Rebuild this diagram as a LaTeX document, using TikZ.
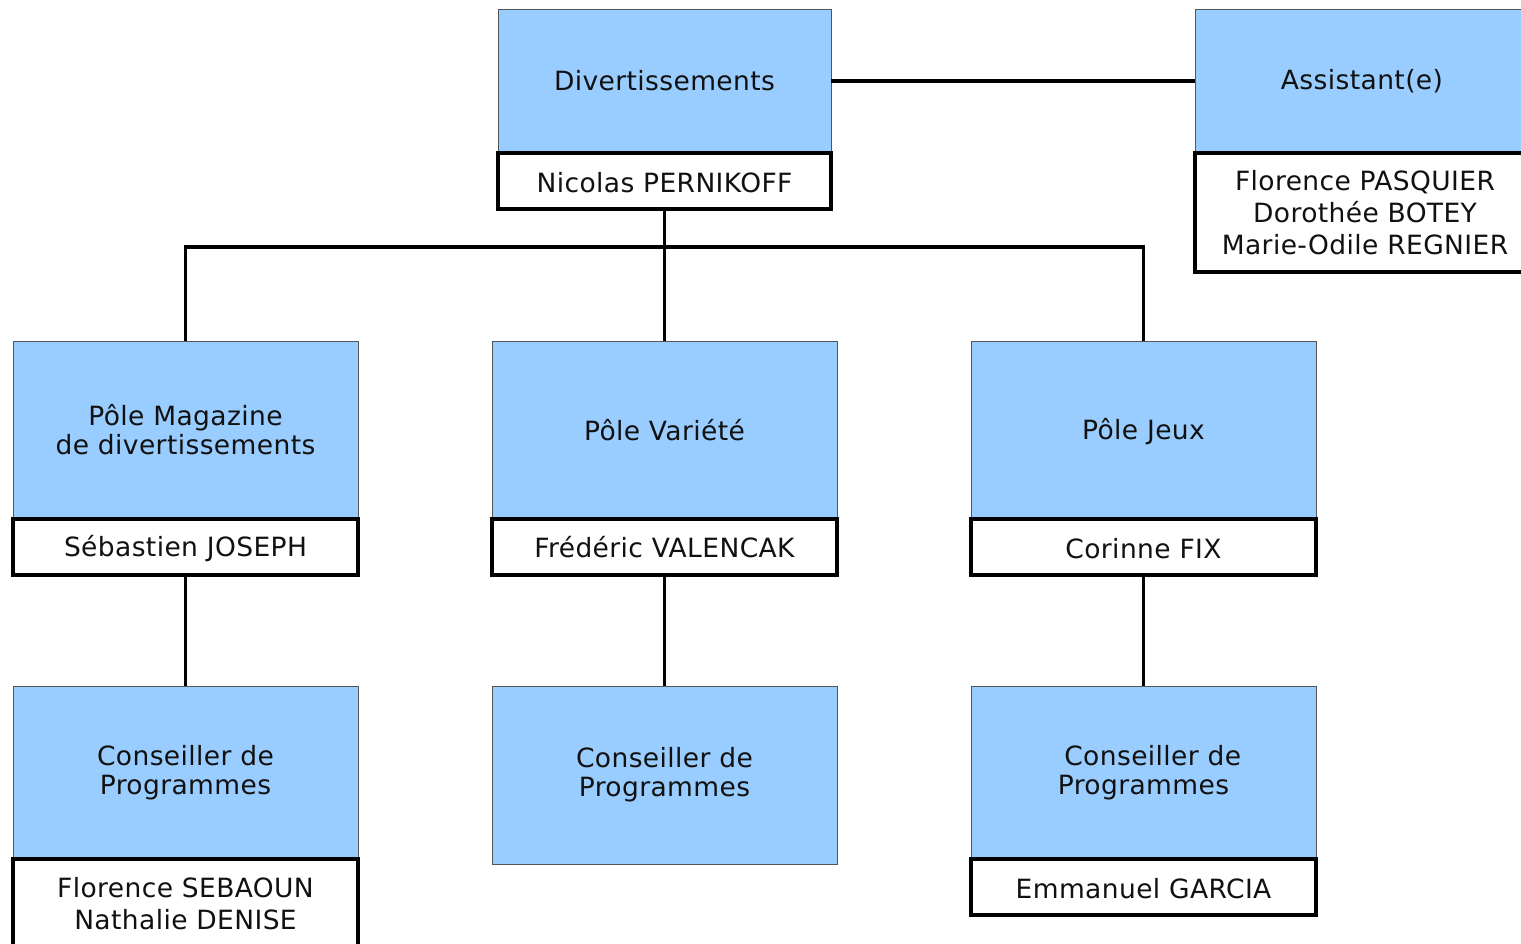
\documentclass[tikz,border=0pt]{standalone}
\usepackage{fontspec}
\setmainfont[LetterSpace=1.5]{DejaVu Sans}
\definecolor{bluefill}{HTML}{99CCFF}
\definecolor{bluedraw}{HTML}{555555}
\definecolor{txt}{HTML}{111111}
\newcommand{\lowered}[1]{\raisebox{-2pt}[\height][\depth]{#1}}
\tikzset{
  bluebox/.style={draw=bluedraw, line width=1pt, fill=bluefill, anchor=north west,
    inner sep=0pt, outer sep=0pt, align=center, text=txt, font=\fontsize{26.5}{29}\selectfont},
  namebox/.style={draw=black, line width=4pt, fill=white, anchor=north west,
    inner sep=0pt, outer sep=0pt, align=center, text=txt, font=\fontsize{26.5}{32}\selectfont},
  conn/.style={draw=black, line width=3.5pt},
}
\begin{document}
\begin{tikzpicture}[x=1pt,y=-1pt]
\useasboundingbox (0,0) rectangle (1521,943);
\clip (0,0) rectangle (1521,943);
\coordinate (bus) at (665,247);
% top
\node[bluebox, minimum width=333pt, minimum height=144pt] (div) at (498,9) {Divertissements};
\node[bluebox, minimum width=334pt, minimum height=144pt] (ass) at (1195,9) {Assistant(e)};
% row 2
\node[bluebox, minimum width=345pt, minimum height=178pt] (pm) at (13,341) {Pôle Magazine\\de divertissements};
\node[bluebox, minimum width=345pt, minimum height=178pt] (pv) at (492,341) {Pôle Variété};
\node[bluebox, minimum width=345pt, minimum height=178pt] (pj) at (971,341) {\lowered{Pôle Jeux}};
% row 3
\node[bluebox, minimum width=345pt, minimum height=173pt] (cl) at (13,686) {Conseiller de\\Programmes};
\node[bluebox, minimum width=345pt, minimum height=178pt] (cm) at (492,686) {Conseiller de\\Programmes};
\node[bluebox, minimum width=345pt, minimum height=173pt] (cr) at (971,686) {\hspace*{0.7em}Conseiller de\\Programmes};
% connectors
\draw[conn] (div.east) -- (ass.west);
\node[namebox, minimum width=333pt, minimum height=56pt] (divn) at (498,153) {\lowered{Nicolas PERNIKOFF}};
\node[namebox, minimum width=340pt, minimum height=119pt] (assn) at (1195,153) {Florence PASQUIER\\Dorothée BOTEY\\Marie-Odile REGNIER};
\node[namebox, minimum width=345pt, minimum height=56pt] (pmn) at (13,519) {\lowered{Sébastien JOSEPH}};
\node[namebox, minimum width=345pt, minimum height=56pt] (pvn) at (492,519) {Frédéric VALENCAK};
\node[namebox, minimum width=345pt, minimum height=56pt] (pjn) at (971,519) {\lowered{Corinne FIX}};
\node[namebox, minimum width=345pt, minimum height=90pt] (cln) at (13,859) {Florence SEBAOUN\\Nathalie DENISE};
\node[namebox, minimum width=345pt, minimum height=56pt] (crn) at (971,859) {\lowered{Emmanuel GARCIA}};
\draw[conn] (divn.south) -- (pv.north);
\draw[conn] (pm.north) |- (bus) -| (pj.north);
\draw[conn] (pmn.south) -- (cl.north);
\draw[conn] (pvn.south) -- (cm.north);
\draw[conn] (pjn.south) -- (cr.north);
\end{tikzpicture}
\end{document}
